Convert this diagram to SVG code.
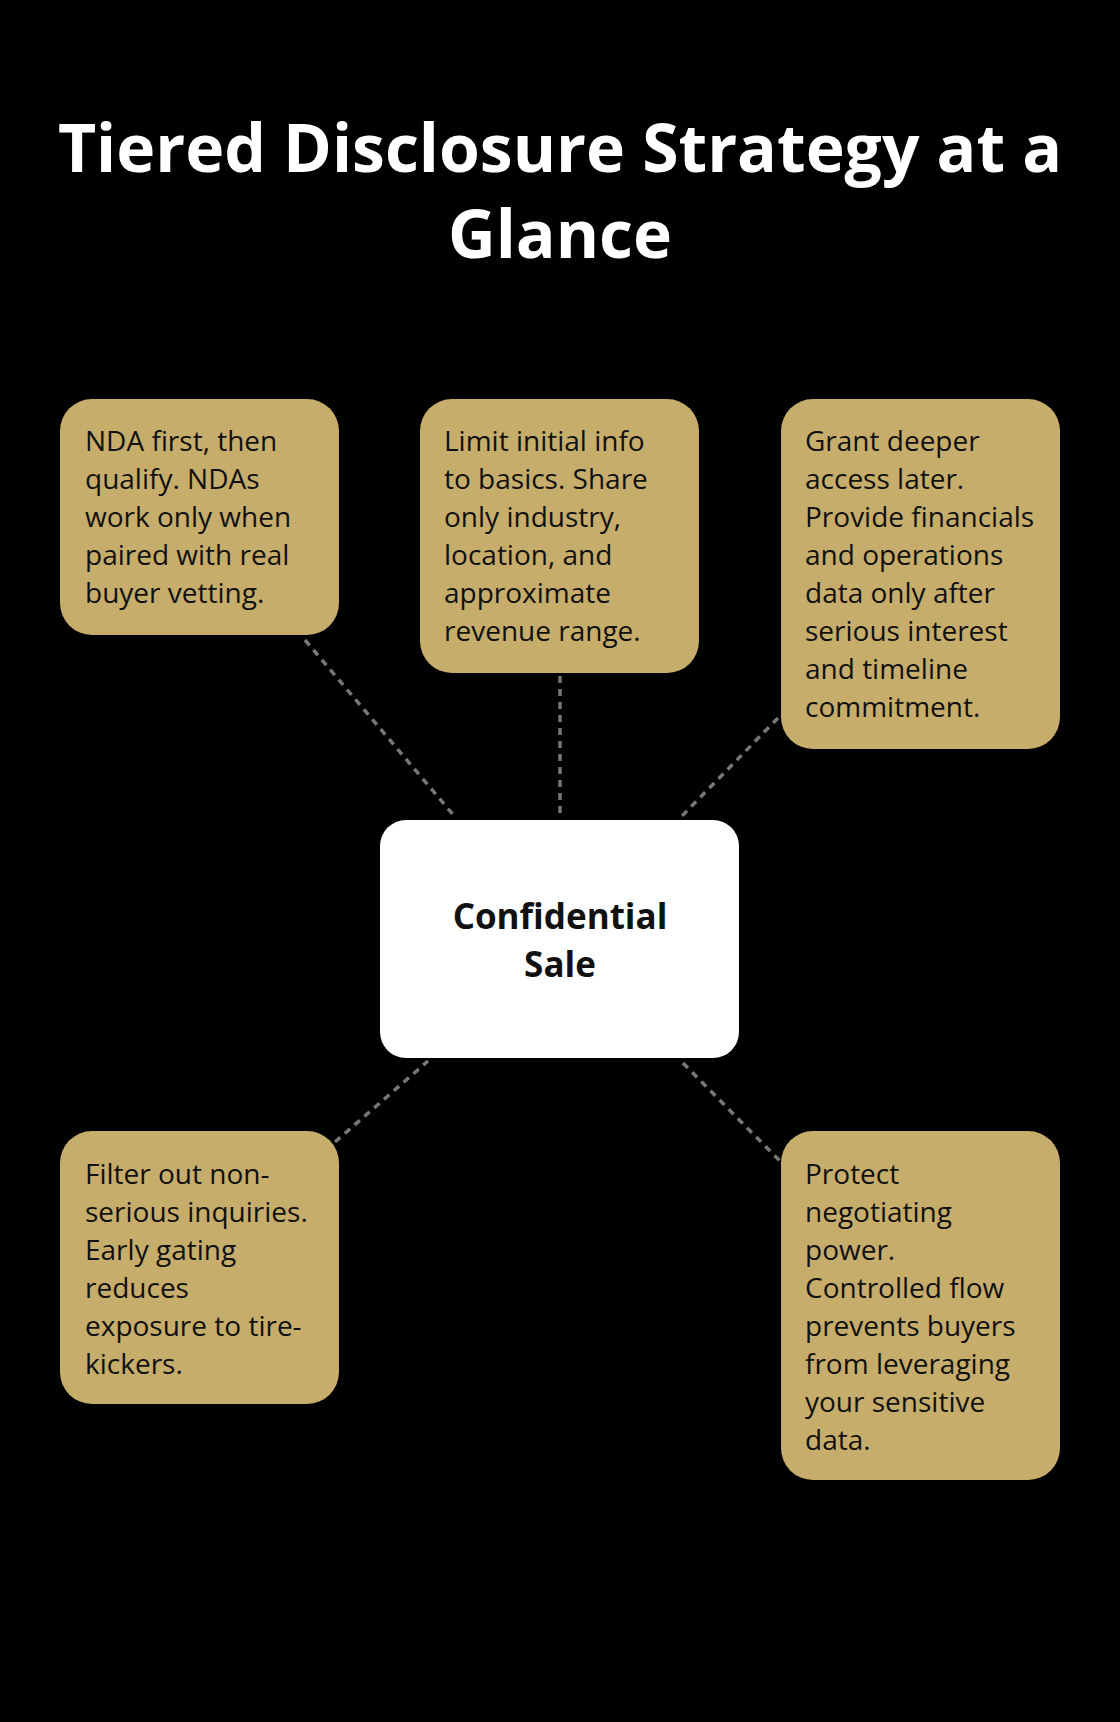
<svg xmlns="http://www.w3.org/2000/svg" width="1120" height="1722" viewBox="0 0 1120 1722">
<style>
.t{font-family:"Open Sans","Noto Sans",sans-serif;font-weight:bold;fill:#fff;font-size:66px;text-anchor:middle}
.b{fill:#c6ad6b}
.n{font-family:"Open Sans","Noto Sans",sans-serif;font-size:28px;fill:#111}
.c{font-family:"Open Sans","Noto Sans",sans-serif;font-size:35px;font-weight:bold;fill:#111;text-anchor:middle}
.l{stroke:#777;stroke-width:3.5;stroke-dasharray:7 6;fill:none}
</style>
<rect width="1120" height="1722" fill="#000"/>
<text class="t" x="560" y="172">Tiered Disclosure Strategy at a</text>
<text class="t" x="560" y="258">Glance</text>
<g id="connectors">
<line class="l" x1="305" y1="640" x2="456" y2="818"/>
<line class="l" x1="560" y1="676" x2="560" y2="815"/>
<line class="l" x1="778" y1="718" x2="681" y2="817"/>
<line class="l" x1="335" y1="1142" x2="428" y2="1061"/>
<line class="l" x1="683" y1="1063" x2="780" y2="1161"/>
</g>
<g id="center">
<rect x="380" y="820" width="359" height="238" rx="26" fill="#fff"/>
<text class="c" x="560" y="929">Confidential</text>
<text class="c" x="560" y="977">Sale</text>
</g>
<g id="n1">
<rect class="b" x="60" y="399" width="279" height="236" rx="32"/>
<text class="n" x="85" y="451">NDA first, then<tspan x="85" dy="38">qualify. NDAs</tspan><tspan x="85" dy="38">work only when</tspan><tspan x="85" dy="38">paired with real</tspan><tspan x="85" dy="38">buyer vetting.</tspan></text>
</g>
<g id="n2">
<rect class="b" x="420" y="399" width="279" height="274" rx="32"/>
<text class="n" x="444" y="451">Limit initial info<tspan x="444" dy="38">to basics. Share</tspan><tspan x="444" dy="38">only industry,</tspan><tspan x="444" dy="38">location, and</tspan><tspan x="444" dy="38">approximate</tspan><tspan x="444" dy="38">revenue range.</tspan></text>
</g>
<g id="n3">
<rect class="b" x="781" y="399" width="279" height="350" rx="32"/>
<text class="n" x="805" y="451">Grant deeper<tspan x="805" dy="38">access later.</tspan><tspan x="805" dy="38">Provide financials</tspan><tspan x="805" dy="38">and operations</tspan><tspan x="805" dy="38">data only after</tspan><tspan x="805" dy="38">serious interest</tspan><tspan x="805" dy="38">and timeline</tspan><tspan x="805" dy="38">commitment.</tspan></text>
</g>
<g id="n4">
<rect class="b" x="60" y="1131" width="279" height="273" rx="32"/>
<text class="n" x="85" y="1184">Filter out non-<tspan x="85" dy="38">serious inquiries.</tspan><tspan x="85" dy="38">Early gating</tspan><tspan x="85" dy="38">reduces</tspan><tspan x="85" dy="38">exposure to tire-</tspan><tspan x="85" dy="38">kickers.</tspan></text>
</g>
<g id="n5">
<rect class="b" x="781" y="1131" width="279" height="349" rx="32"/>
<text class="n" x="805" y="1184">Protect<tspan x="805" dy="38">negotiating</tspan><tspan x="805" dy="38">power.</tspan><tspan x="805" dy="38">Controlled flow</tspan><tspan x="805" dy="38">prevents buyers</tspan><tspan x="805" dy="38">from leveraging</tspan><tspan x="805" dy="38">your sensitive</tspan><tspan x="805" dy="38">data.</tspan></text>
</g>
</svg>
